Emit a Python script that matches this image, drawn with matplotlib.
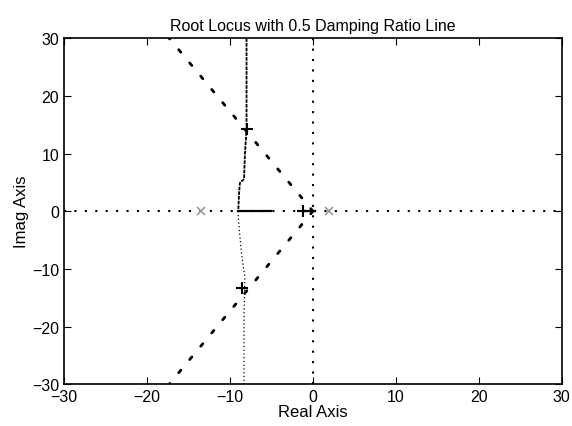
import numpy as np
import matplotlib.pyplot as plt

plt.rcParams['font.family'] = ['Liberation Sans', 'DejaVu Sans']

# root locus branches
upper_re = [-8.0, -8.0, -8.2, -8.3, -8.8, -8.9, -9.0]
upper_im = [30.0, 14.3, 9.7, 5.6, 4.9, 3.2, 0.0]
lower_re = [-9.0, -9.0, -8.8, -8.6, -8.2, -8.3, -8.3]
lower_im = [0.0, -0.9, -4.4, -7.4, -11.5, -18.5, -30.0]
real_re = [-9.0, -5.0]
real_im = [0.0, 0.0]
near0_re = [-1.2, 0.2]
near0_im = [0.0, 0.0]

# marks
plus_re = [-8.0, -8.5, -1.2]
plus_im = [14.3, -13.3, 0.0]
pole_re = [-13.5, 2.0]
pole_im = [0.0, 0.0]

zeta = 0.5
lim = 30

fig = plt.figure(figsize=(5.72, 4.27), dpi=100)
ax = fig.add_axes([0.112, 0.098, 0.87, 0.81])

# damping ratio line
ang = np.arccos(zeta)
r = np.array([0, 40])
ax.plot(-r * np.cos(ang), r * np.sin(ang), color='black', lw=2,
        ls=(0, (1.2, 5)), dash_capstyle='round')
ax.plot(-r * np.cos(ang), -r * np.sin(ang), color='black', lw=2,
        ls=(0, (1.2, 5)), dash_capstyle='round')

# axes lines
ax.plot([-lim, lim], [0, 0], color='black', lw=1.5, ls=(0, (1, 4)))
ax.plot([0, 0], [-lim, lim], color='black', lw=1.5, ls=(0, (1, 4)))

# locus
ax.plot(upper_re, upper_im, color='black', lw=1.3, ls=(0, (2, 0.6)))
ax.plot(lower_re, lower_im, color='black', lw=0.9, ls=(0, (1, 2)))
ax.plot(real_re, real_im, color='black', lw=1.6)
ax.plot(near0_re, near0_im, color='black', lw=1.6)
ax.plot(plus_re, plus_im, '+', color='black', ms=9, mew=1.5)
ax.plot(pole_re, pole_im, 'x', color='0.6', ms=6, mew=1.2)

ax.set_xlim(-lim, lim)
ax.set_ylim(-lim, lim)
ax.set_xticks(np.arange(-30, 31, 10))
ax.set_yticks(np.arange(-30, 31, 10))
ax.tick_params(direction='in', top=True, right=True, length=5, labelsize=11.5)
for s in ax.spines.values():
    s.set_linewidth(1.2)

ax.set_title('Root Locus with 0.5 Damping Ratio Line', fontsize=11.5)
ax.set_xlabel('Real Axis', fontsize=12, labelpad=0)
ax.set_ylabel('Imag Axis', fontsize=12, labelpad=2)

fig.savefig('out.png', dpi=100)
